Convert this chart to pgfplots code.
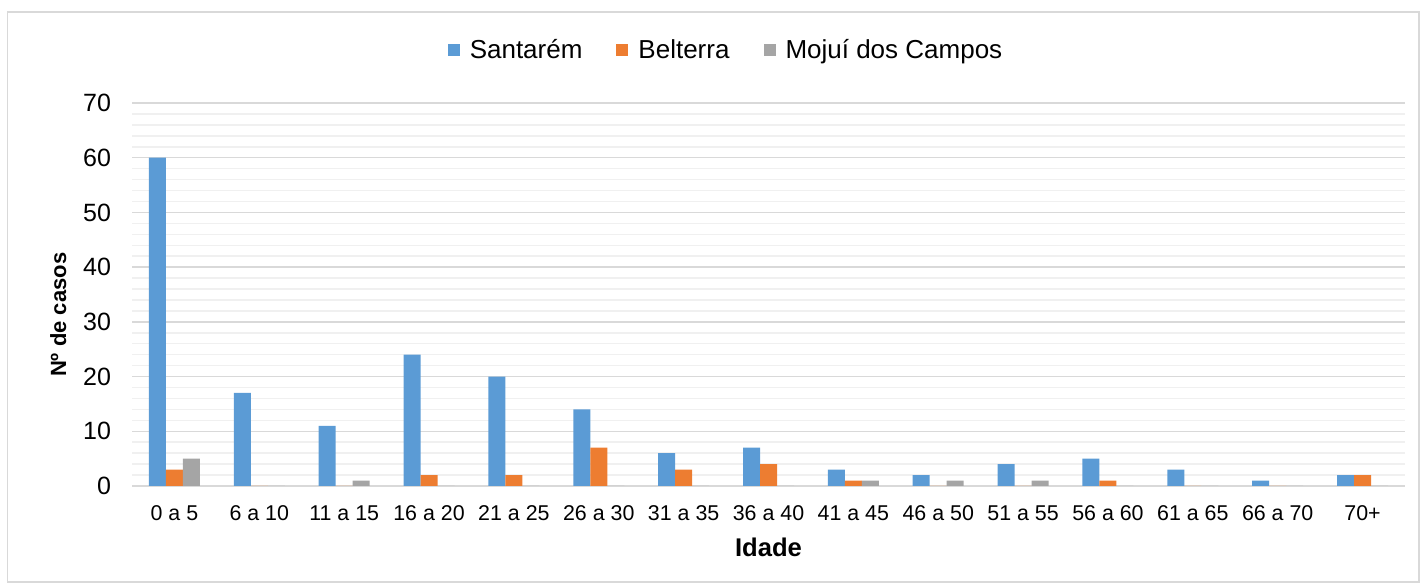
\documentclass[border=0pt]{standalone}
\usepackage{fontspec}
\setmainfont{Liberation Sans}
\usepackage{pgfplots}
\pgfplotsset{compat=1.18}
\definecolor{cblue}{HTML}{5B9BD5}
\definecolor{corange}{HTML}{ED7D31}
\definecolor{cgray}{HTML}{A5A5A5}
\definecolor{gridmaj}{HTML}{D9D9D9}
\definecolor{gridmin}{HTML}{F0F0F0}
\begin{document}
\begin{tikzpicture}
\useasboundingbox (0,0) rectangle (712.5pt,294pt);
\draw[gridmaj, line width=0.75pt] (3.8pt,3pt) rectangle (709.5pt,288pt);
\begin{axis}[
  at={(66pt,51pt)}, anchor=south west,
  width=636.5pt, height=191.5pt, scale only axis,
  xmin=-0.5, xmax=14.5, ymin=0, ymax=70,
  ybar=0pt, bar width=8.5pt,
  xtick={0,...,14},
  xticklabels={0 a 5,6 a 10,11 a 15,16 a 20,21 a 25,26 a 30,31 a 35,36 a 40,41 a 45,46 a 50,51 a 55,56 a 60,61 a 65,66 a 70,70+},
  ytick={0,10,...,70}, minor y tick num=4,
  ymajorgrids, yminorgrids,
  major grid style={draw=gridmaj, line width=0.75pt},
  minor grid style={draw=gridmin, line width=0.75pt},
  axis x line*=bottom, axis y line*=left,
  y axis line style={draw=none},
  x axis line style={draw=gridmaj, line width=1pt},
  tick style={draw=none},
  /pgf/number format/assume math mode=true,
  yticklabel style={font=\fontsize{12.5}{14}\selectfont, xshift=-7pt},
  xticklabel style={font=\fontsize{10.7}{12}\selectfont, yshift=-2pt},
  xlabel={\fontsize{12.8}{15}\selectfont\bfseries Idade},
  ylabel={\fontsize{11}{13}\selectfont\bfseries Nº de casos},
  every axis x label/.style={at={(axis description cs:0.5,-0.16)}, anchor=center},
  every axis y label/.style={at={(axis description cs:-0.058,0.447)}, anchor=center, rotate=90},
  legend style={at={(0.4674,1.138)}, anchor=center, legend columns=-1, draw=none,
    font=\fontsize{13}{15}\selectfont,
    /tikz/every even column/.append style={column sep=15pt}},
  legend image code/.code={\fill[#1] (0pt,-3pt) rectangle (6pt,3pt); \path (9pt,0pt);},
  clip=false,
]
\addplot[fill=cblue, draw=none] coordinates {(0,60) (1,17) (2,11) (3,24) (4,20) (5,14) (6,6) (7,7) (8,3) (9,2) (10,4) (11,5) (12,3) (13,1) (14,2)};
\addplot[fill=corange, draw=none] coordinates {(0,3) (1,0) (2,0) (3,2) (4,2) (5,7) (6,3) (7,4) (8,1) (9,0) (10,0) (11,1) (12,0) (13,0) (14,2)};
\addplot[fill=cgray, draw=none] coordinates {(0,5) (1,0) (2,1) (3,0) (4,0) (5,0) (6,0) (7,0) (8,1) (9,1) (10,1) (11,0) (12,0) (13,0) (14,0)};
\legend{Santarém, Belterra, Mojuí dos Campos}
\end{axis}
\end{tikzpicture}
\end{document}
